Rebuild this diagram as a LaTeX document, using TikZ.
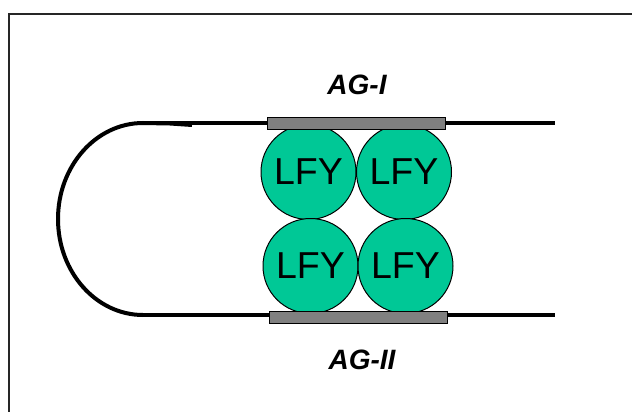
\documentclass[tikz,border=0pt]{standalone}
\usepackage{fontspec}
\setmainfont{Liberation Sans}
\usetikzlibrary{positioning}
\definecolor{lfygreen}{RGB}{0,200,150}
\definecolor{bargray}{RGB}{128,128,128}

\begin{document}
\begin{tikzpicture}[x=1pt, y=-1pt,
        lfy/.style={circle, draw, line width=1pt, fill=lfygreen, minimum size=95pt, inner sep=0pt, font=\fontsize{37.5}{40}\selectfont},
        site/.style={rectangle, draw, line width=1pt, fill=bargray, minimum width=178pt, minimum height=12pt, inner sep=0pt},
        sitelabel/.style={font=\fontsize{28}{30}\selectfont\bfseries\itshape},
        dna/.style={line width=4pt}]
        \useasboundingbox (0,0) rectangle (632,412);
        \draw[line width=2pt, black!85] (9,14) rectangle (645,425);

        % DNA loop
        \coordinate (topL) at (140,123);
        \coordinate (topR) at (555,123);
        \coordinate (botL) at (143,315);
        \coordinate (botR) at (555,315);
        \draw[dna] (topL) -- (topR);
        \draw[dna] (botL) -- (botR);
        \draw[dna] (192,125) -- (170,123.5) -- (143,123) arc[start angle=270, end angle=90, x radius=85, y radius=96];

        % LFY tetramer
        \node[lfy] (lfyA) at (308.5,172) {LFY};
        \node[lfy] (lfyB) at (404,172) {LFY};
        \node[lfy] (lfyC) at (310.5,266) {LFY};
        \node[lfy] (lfyD) at (405.5,266) {LFY};

        % binding sites
        \node[site] (agI) at (356,123) {};
        \node[site] (agII) at (358,317) {};
        \node[sitelabel] (agIlab) at (357,85) {AG-I};
        \node[sitelabel] (agIIlab) at (362,360) {AG-II};
    \end{tikzpicture}
\end{document}
